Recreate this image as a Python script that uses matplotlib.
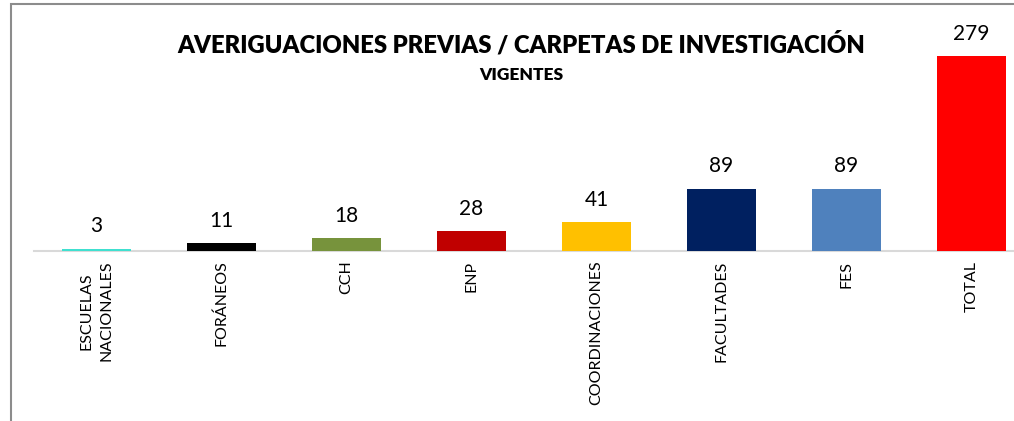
import matplotlib.pyplot as plt
import matplotlib.patches as patches

categories = ["ESCUELAS\nNACIONALES", "FORÁNEOS", "CCH", "ENP", "COORDINACIONES",
              "FACULTADES", "FES", "TOTAL"]
values = [3, 11, 18, 28, 41, 89, 89, 279]
colors = ["#40E0D0", "#000000", "#77933C", "#C00000", "#FFC000",
          "#002060", "#4F81BD", "#FF0000"]

plt.rcParams["font.family"] = ["Lato", "DejaVu Sans"]

W, H = 1014, 421
fig = plt.figure(figsize=(W / 100, H / 100), dpi=100)

# chart frame (runs off the right and bottom edges)
fig.patches.append(patches.Rectangle((11 / W, -0.1), 1.2, (H - 4) / H + 0.1,
                                     transform=fig.transFigure, fill=False,
                                     edgecolor="#8c8c8c", linewidth=1.5))

# plot area: 125 px per category, baseline at y=251 px from top
left, bottom = 34 / W, (H - 251) / H
ymax = 300
px_per_unit = 195 / 279
ax = fig.add_axes([left, bottom, 1000 / W, ymax * px_per_unit / H])
ax.set_xlim(-0.5, 7.5)
ax.set_ylim(0, ymax)

x = range(len(categories))
bars = ax.bar(x, values, width=0.545, color=colors, zorder=3)
for b, v in zip(bars, values):
    ax.annotate(str(v), (b.get_x() + b.get_width() / 2, v), xytext=(0, 9),
                textcoords="offset points", ha="center", va="bottom", fontsize=15)

ax.set_xticks(list(x))
ax.set_xticklabels(categories, rotation=90, fontsize=11.5, va="top", ha="center",
                   multialignment="center", linespacing=1.55)
ax.tick_params(axis="x", length=0, pad=7)
ax.set_yticks([])
for s in ["top", "right", "left"]:
    ax.spines[s].set_visible(False)
ax.spines["bottom"].set_color("#d9d9d9")
ax.spines["bottom"].set_linewidth(1.5)
ax.set_facecolor("none")

fig.text(521 / W, 1 - 44 / H, "AVERIGUACIONES PREVIAS / CARPETAS DE INVESTIGACIÓN",
         ha="center", va="center", fontsize=17.2, fontweight="heavy")
fig.text(521 / W, 1 - 75 / H, "VIGENTES", ha="center", va="center",
         fontsize=12.5, fontweight="heavy")

fig.savefig("out.png", dpi=100, facecolor="white")
